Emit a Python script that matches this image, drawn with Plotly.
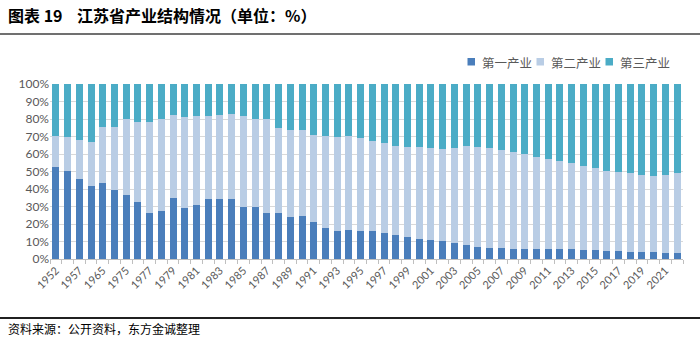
import plotly.graph_objects as go

years = ["1952", "1955", "1957", "1962", "1965", "1970"] + [str(y) for y in range(1975, 2023)]

primary = [52.4, 50.1, 45.9, 41.7, 43.2, 39.4, 36.8, 32.8, 26.3, 27.2, 34.7, 29.2,
           30.7, 34.3, 34.3, 34.1, 29.5, 29.5, 26.5, 26.1, 24.2, 24.8, 21.0, 17.9,
           16.0, 16.3, 16.2, 15.8, 15.0, 13.9, 12.8, 11.4, 10.9, 10.1, 9.0, 8.2,
           7.0, 6.3, 6.1, 5.8, 5.9, 5.5, 5.5, 5.5, 5.5, 5.1, 5.1, 4.8, 4.4, 4.0,
           4.0, 4.0, 3.6, 3.6]
prim_plus_sec = [70.1, 69.5, 68.0, 66.7, 75.2, 75.2, 80.0, 78.5, 78.1, 80.0, 82.1, 81.2,
                 81.9, 81.9, 82.3, 82.7, 81.9, 80.2, 79.8, 74.9, 73.9, 73.5, 70.9, 70.3,
                 69.5, 70.5, 69.0, 67.6, 66.5, 64.8, 64.0, 64.0, 63.2, 62.9, 63.6, 64.8,
                 64.0, 63.2, 62.1, 61.4, 60.2, 58.3, 57.3, 56.2, 54.7, 53.1, 52.0, 50.1,
                 49.9, 49.3, 48.2, 47.2, 48.2, 49.1]
secondary = [round(a - b, 1) for a, b in zip(prim_plus_sec, primary)]
tertiary = [round(100 - a, 1) for a in prim_plus_sec]

names = ["第一产业", "第二产业", "第三产业"]
colors = ["#4a7ebb", "#b9cde5", "#4bacc6"]

tick_text = [y if i % 2 == 0 else "" for i, y in enumerate(years)]

W, H = 700, 340
L, R, T, B = 50, 683, 84, 259

def px(x):
    return (x - L) / (R - L)

def py(y):
    return (B - y) / (B - T)

fig = go.Figure()
for name, vals, col in zip(names, [primary, secondary, tertiary], colors):
    fig.add_trace(go.Bar(x=years, y=vals, name=name, marker_color=col,
                         marker_line_width=0, showlegend=False))

font_fam = "Lato, Noto Sans CJK SC, sans-serif"
fig.update_layout(
    width=W, height=H,
    margin=dict(l=L, r=W - R, t=T, b=H - B, autoexpand=False),
    barmode="stack", bargap=0.4,
    plot_bgcolor="white", paper_bgcolor="white",
    font=dict(family=font_fam, color="#595959", size=11),
    showlegend=False,
    xaxis=dict(type="category", tickmode="array", tickvals=years, ticktext=tick_text,
               tickangle=-45, showline=True, linecolor="#bfbfbf", linewidth=1,
               ticks="outside", tickson="boundaries", ticklen=4, tickcolor="#bfbfbf",
               showgrid=False, tickfont=dict(size=11, color="#595959"), automargin=False),
    yaxis=dict(range=[0, 100], dtick=10, ticksuffix="%", showgrid=True,
               gridcolor="#d9d9d9", gridwidth=1, zeroline=False, showline=False,
               tickfont=dict(size=12, color="#595959"), automargin=False),
)

# manual legend
leg_sq_x = [467.5, 536.5, 605.5]
for name, col, sx in zip(names, colors, leg_sq_x):
    fig.add_shape(type="rect", xref="paper", yref="paper",
                  x0=px(sx), x1=px(sx + 7.5), y0=py(65.5), y1=py(58),
                  fillcolor=col, line=dict(width=0))
    fig.add_annotation(text=name, xref="paper", yref="paper", x=px(sx + 12.5), y=py(62),
                       xanchor="left", yanchor="middle", showarrow=False,
                       font=dict(size=12.5, color="#595959", family="Noto Sans CJK SC"))

fig.add_annotation(text="<b>图表 19    江苏省产业结构情况（单位：%）</b>",
                   xref="paper", yref="paper", x=px(6), y=py(15),
                   xanchor="left", yanchor="middle", showarrow=False,
                   font=dict(size=16, color="#000000", family="Noto Sans CJK SC"))
fig.add_annotation(text="资料来源：公开资料，东方金诚整理",
                   xref="paper", yref="paper", x=px(6), y=py(328),
                   xanchor="left", yanchor="middle", showarrow=False,
                   font=dict(size=12, color="#000000", family="Noto Sans CJK SC"))
fig.add_shape(type="line", xref="paper", yref="paper", x0=px(0), x1=px(700),
              y0=py(34), y1=py(34), line=dict(color="#404040", width=1.5))
fig.add_shape(type="line", xref="paper", yref="paper", x0=px(0), x1=px(700),
              y0=py(318), y1=py(318), line=dict(color="#202020", width=2))

fig.write_html("out.html")
